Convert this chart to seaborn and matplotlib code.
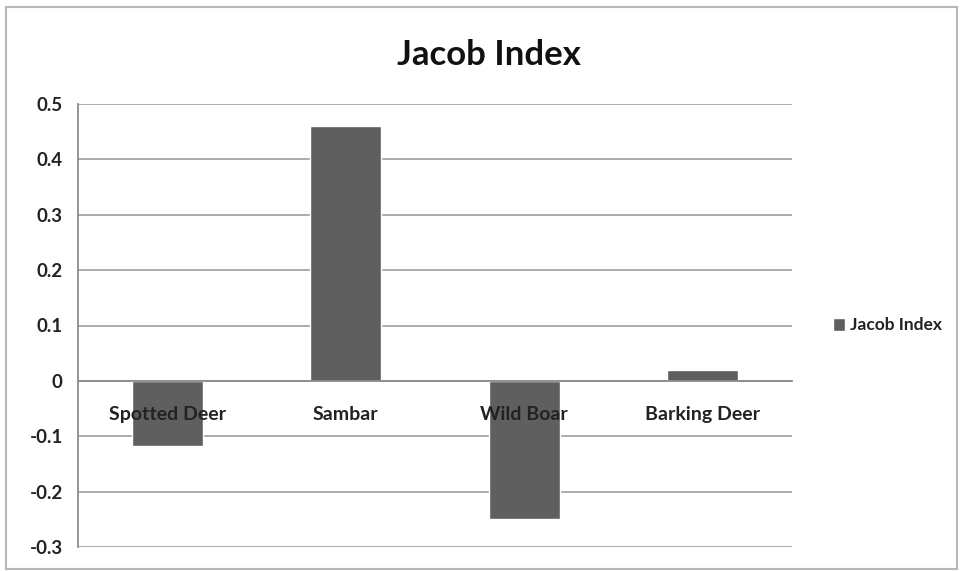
import pandas as pd
import numpy as np
import matplotlib
matplotlib.use('Agg')
import matplotlib.pyplot as plt
import seaborn as sns
from matplotlib.patches import Rectangle

#chart data
categories=['Spotted Deer','Sambar','Wild Boar','Barking Deer']
values=[-0.117,0.46,-0.25,0.02]
series_name='Jacob Index'
yticks=[-0.3,-0.2,-0.1,0,0.1,0.2,0.3,0.4,0.5]
ytick_labels=['-0.3','-0.2','-0.1','0','0.1','0.2','0.3','0.4','0.5']

df=pd.DataFrame({'animal':categories,'value':values,'series':series_name})

sns.set_style('white')
plt.rcParams['font.family']=['Lato','DejaVu Sans']

fig=plt.figure(figsize=(9.63,5.71),dpi=100)
ax=fig.add_axes([78/963,1-547/571,(792-78)/963,(547-104)/571])

#bars
sns.barplot(data=df,x='animal',y='value',hue='series',palette=['#5f5f5f'],
            width=0.4,saturation=1,ax=ax)
for p in ax.patches:
    p.set_zorder(3)

ax.set_ylim(-0.3,0.5)
ax.set_xlim(-0.5,3.5)
ax.set_yticks(yticks)
ax.set_yticklabels(ytick_labels,fontsize=13.5,fontweight='bold',color='#222222')
ax.grid(axis='y',color='#a6a6a6',linewidth=1.3)
ax.set_xlabel('')
ax.set_ylabel('')

#grid behind bars, category labels on top of them
ax.yaxis.set_zorder(1)
ax.xaxis.set_zorder(5)

#x axis at zero
for s in ['top','right']:
    ax.spines[s].set_visible(False)
ax.spines['bottom'].set_position(('data',0))
ax.spines['bottom'].set_color('#8c8c8c')
ax.spines['bottom'].set_linewidth(1.3)
ax.spines['left'].set_color('#8c8c8c')
ax.spines['left'].set_linewidth(1.3)
ax.spines['bottom'].set_zorder(4)

ax.set_xticks(range(len(categories)))
ax.set_xticklabels(categories,fontsize=14,fontweight='bold',color='#222222')
ax.set_xticks([0.5,1.5,2.5,3.5],minor=True)
ax.tick_params(axis='x',which='major',length=0,pad=18)
ax.tick_params(axis='x',which='minor',length=5,color='#8c8c8c',width=1.3,direction='out')
ax.tick_params(axis='y',length=5,color='#8c8c8c',width=1.3,direction='out',pad=6)

#legend
ax.legend(loc='center left',bbox_to_anchor=(1.035,0.5),frameon=False,
          prop={'size':12.5,'weight':'bold'},handlelength=0.7,handleheight=0.7,
          handletextpad=0.3,labelcolor='#222222')

fig.text(0.508,1-55/571,'Jacob Index',ha='center',va='center',fontsize=25,fontweight='bold',color='#111111')

#chart border
fig.patches.append(Rectangle((0.006,0.004),0.988,0.984,transform=fig.transFigure,
                             fill=False,edgecolor='#b8b8b8',linewidth=1.5))

fig.savefig('out.png',dpi=100)
